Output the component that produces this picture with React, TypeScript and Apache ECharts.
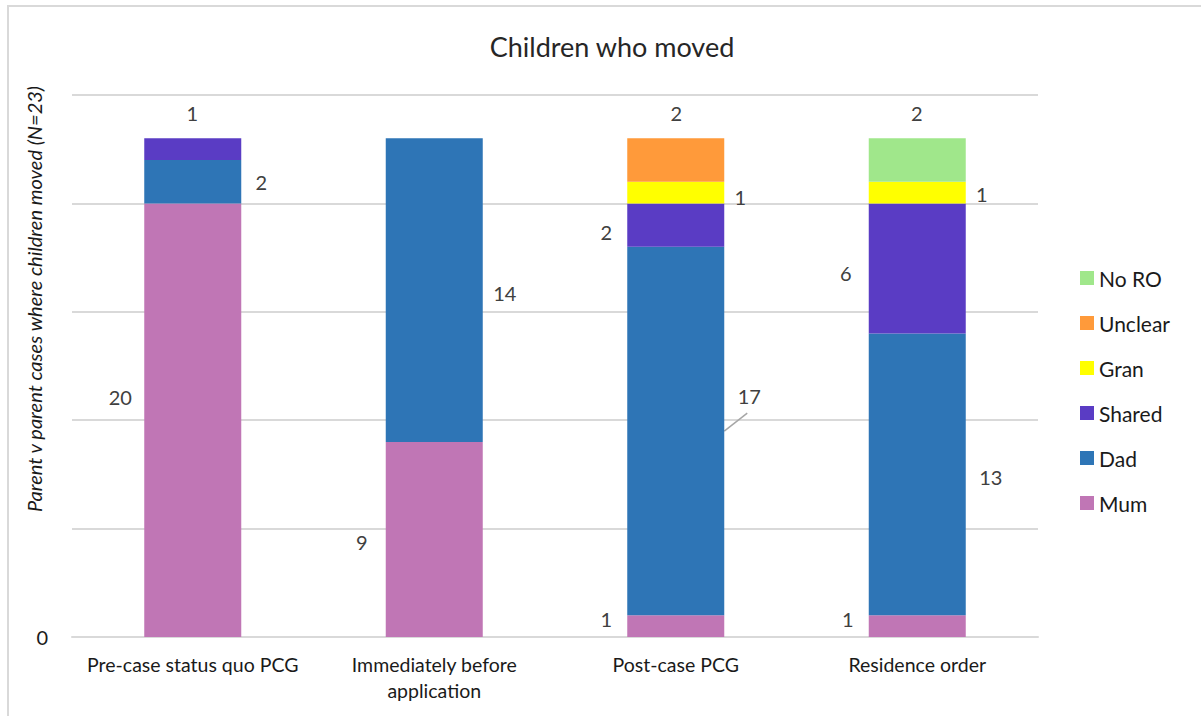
import React, { useEffect, useRef } from "react";
import * as echarts from "echarts";

const categories = [
  "Pre-case status quo PCG",
  "Immediately before\napplication",
  "Post-case PCG",
  "Residence order",
];
const mumValues = [20, 9, 1, 1];
const dadValues = [2, 14, 17, 13];
const sharedValues = [1, null, 2, 6];
const granValues = [null, null, 1, 1];
const unclearValues = [null, null, 2, null];
const noRoValues = [null, null, null, 2];
const legendOrder = ["No RO", "Unclear", "Gran", "Shared", "Dad", "Mum"];
const yTitle = "Parent v parent cases where children moved (N=23)";

// label centre offsets relative to each bar segment's top-left corner
const labelOffsets: Record<string, (number[] | null)[]> = {
  Mum: [[-24, 194], [-24, 100], [-21, 4], [-21, 4]],
  Dad: [[117, 22], [119, 155], [122, 149], [122, 144]],
  Shared: [[48, -25], null, [-21, 29], [-23, 70]],
  Gran: [null, null, [113, 15], [113, 12]],
  Unclear: [null, null, [49, -25], null],
  "No RO": [null, null, null, [48, -25]],
};

const seriesDefs = [
  { name: "Mum", data: mumValues, color: "#C076B5" },
  { name: "Dad", data: dadValues, color: "#2E75B6" },
  { name: "Shared", data: sharedValues, color: "#5A3CC4" },
  { name: "Gran", data: granValues, color: "#FFFF00" },
  { name: "Unclear", data: unclearValues, color: "#FF9A3A" },
  { name: "No RO", data: noRoValues, color: "#A0E78B" },
];

const FONT = "Lato, 'Open Sans', sans-serif";
const BAR_WIDTH = 97;

export default function App() {
  const ref = useRef<HTMLDivElement>(null);
  useEffect(() => {
    if (!ref.current) return;
    const chart = echarts.init(ref.current, null, { renderer: "svg" });
    const series = seriesDefs.map((s) => ({
      name: s.name,
      type: "bar",
      stack: "total",
      barWidth: BAR_WIDTH,
      itemStyle: { color: s.color },
      data: s.data,
      label: {
        show: true,
        position: "inside",
        fontFamily: FONT,
        fontSize: 20,
        color: "#404040",
        formatter: (p: any) => (p.value == null ? "" : String(p.value)),
      },
      labelLayout: (p: any) => {
        const o = labelOffsets[s.name][p.dataIndex];
        if (!o) return {};
        return {
          x: p.rect.x + o[0],
          y: p.rect.y + o[1],
          align: "center",
          verticalAlign: "middle",
        };
      },
    }));

    chart.setOption({
      animation: false,
      backgroundColor: "#ffffff",
      title: {
        text: "Children who moved",
        left: 607,
        textAlign: "center",
        top: 28,
        textStyle: {
          fontFamily: FONT,
          fontSize: 27,
          fontWeight: "normal",
          color: "#262626",
        },
      },
      legend: {
        orient: "vertical",
        left: 1075,
        top: 262,
        data: legendOrder,
        icon: "rect",
        itemWidth: 14,
        itemHeight: 14,
        itemGap: 23,
        selectedMode: false,
        textStyle: {
          fontFamily: FONT,
          fontSize: 21,
          color: "#1a1a1a",
          lineHeight: 22,
        },
      },
      grid: { left: 72, right: 163, top: 95, bottom: 79 },
      xAxis: {
        type: "category",
        data: categories,
        axisLine: { lineStyle: { color: "#D9D9D9", width: 2 } },
        axisTick: { show: false },
        axisLabel: {
          interval: 0,
          fontFamily: FONT,
          fontSize: 19.5,
          color: "#1a1a1a",
          margin: 14,
          lineHeight: 26,
        },
      },
      yAxis: {
        type: "value",
        min: 0,
        max: 25,
        interval: 5,
        axisLine: { show: false },
        axisTick: { show: false },
        splitLine: { lineStyle: { color: "#D9D9D9", width: 2 } },
        axisLabel: {
          fontFamily: FONT,
          fontSize: 20,
          color: "#1a1a1a",
          margin: 24,
          formatter: (v: number) => (v === 0 ? "0" : ""),
        },
      },
      series,
    });

    // leader line for the "17" label, placed via the chart's scales
    const dadMid = mumValues[2] + dadValues[2] / 2;
    const anchor = chart.convertToPixel({ gridIndex: 0 }, [2, dadMid]) as number[];
    const sx = anchor[0] + BAR_WIDTH / 2;
    const sy = anchor[1];
    chart.setOption({
      graphic: [
        {
          type: "text",
          x: 34,
          y: 299,
          rotation: Math.PI / 2,
          style: {
            text: yTitle,
            align: "center",
            verticalAlign: "middle",
            fontFamily: FONT,
            fontSize: 20,
            fontStyle: "italic",
            fill: "#1a1a1a",
          },
        },
        {
          type: "line",
          shape: { x1: sx, y1: sy, x2: sx + 23, y2: sy - 18 },
          style: { stroke: "#A6A6A6", lineWidth: 1.5 },
          silent: true,
        },
      ],
    });
    return () => chart.dispose();
  }, []);

  return (
    <div
      style={{
        position: "fixed",
        left: 0,
        top: 0,
        width: 1201,
        height: 716,
        overflow: "hidden",
        background: "#fff",
      }}
    >
      <div ref={ref} style={{ position: "absolute", left: 0, top: 0, width: 1201, height: 716 }} />
      <div
        style={{
          position: "absolute",
          left: 7,
          top: 5,
          width: 1400,
          height: 900,
          borderTop: "2px solid #D9D9D9",
          borderLeft: "2px solid #D9D9D9",
          pointerEvents: "none",
        }}
      />
    </div>
  );
}
